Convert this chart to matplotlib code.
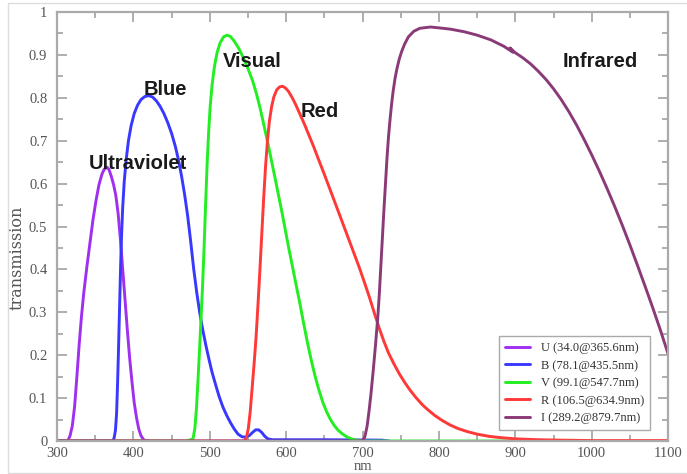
import matplotlib
matplotlib.use("Agg")
import matplotlib.pyplot as plt
from matplotlib.ticker import MultipleLocator, FuncFormatter
from matplotlib.patches import Rectangle

# ---------------- data ----------------
u_nm = [300, 314, 317, 320, 323, 326, 329, 332, 335, 339, 343, 347, 351, 355, 359, 362, 365.6,
        368, 371, 374, 377, 380, 383, 386, 389, 392, 395, 398, 401, 404, 407, 410, 413, 416, 420]
u_tr = [0, 0, 0.012, 0.035, 0.08, 0.15, 0.225, 0.29, 0.345, 0.405, 0.46, 0.515, 0.56, 0.598,
        0.623, 0.634, 0.638, 0.633, 0.617, 0.598, 0.572, 0.53, 0.47, 0.40, 0.33, 0.26, 0.195,
        0.14, 0.09, 0.055, 0.028, 0.012, 0.004, 0, 0]

b_nm = [300, 372, 374.5, 376.5, 378, 379.2, 380.3, 381.3, 382.3, 383.3, 384.5, 386, 388, 390.5,
        393.5, 397, 401, 405.5, 410, 415, 420, 425, 430, 435, 440, 445, 450, 455, 459, 463, 467,
        471, 475, 479, 483, 487, 491, 495, 499, 503, 507, 512, 517, 522, 527, 532, 537, 542,
        547, 552, 556, 560, 564, 568, 572, 576, 582, 650, 725, 735]
b_tr = [0, 0, 0.005, 0.025, 0.065, 0.13, 0.2, 0.27, 0.34, 0.41, 0.48, 0.545, 0.605, 0.655, 0.70,
        0.735, 0.763, 0.783, 0.796, 0.803, 0.805, 0.802, 0.793, 0.78, 0.763, 0.742, 0.717, 0.686,
        0.655, 0.618, 0.575, 0.525, 0.465, 0.40, 0.345, 0.297, 0.257, 0.222, 0.19, 0.16, 0.135,
        0.105, 0.08, 0.06, 0.043, 0.028, 0.016, 0.01, 0.009, 0.013, 0.02, 0.026, 0.026, 0.02,
        0.011, 0.005, 0.003, 0.003, 0.002, 0]

v_nm = [300, 470, 478, 480.5, 482.5, 484.5, 486.5, 488.5, 490.5, 492.5, 494.5, 496.5, 498.5,
        500.5, 503, 506, 509.5, 513.5, 518, 522.5, 527, 532, 538, 544, 550, 556, 561, 566, 571,
        577, 586, 594.7, 603, 612, 618, 623, 628, 633, 638, 643, 648, 653, 658, 663, 668, 674,
        680, 687, 694, 700, 960]
v_tr = [0, 0, 0.005, 0.03, 0.075, 0.14, 0.21, 0.285, 0.36, 0.45, 0.55, 0.645, 0.72, 0.78, 0.83,
        0.872, 0.905, 0.928, 0.942, 0.946, 0.943, 0.932, 0.915, 0.893, 0.868, 0.84, 0.81, 0.775,
        0.735, 0.686, 0.608, 0.531, 0.453, 0.373, 0.32, 0.273, 0.228, 0.187, 0.15, 0.118, 0.09,
        0.068, 0.05, 0.036, 0.025, 0.016, 0.009, 0.004, 0.001, 0, 0]

r_nm = [300, 545, 548, 550.5, 553, 555.5, 558, 560.5, 563, 565.5, 568, 570.5, 573, 575.5, 578,
        581, 584, 587.5, 591, 595, 599, 603, 608, 613, 618, 624, 630, 636, 642, 649, 656, 663,
        671, 679, 687, 695, 702, 709, 716, 722, 728, 734, 741, 748, 755, 762, 770, 778, 786,
        795, 805, 815, 825, 837, 850, 865, 880, 900, 930, 960, 1000, 1100]
r_tr = [0, 0, 0.008, 0.03, 0.07, 0.125, 0.18, 0.24, 0.315, 0.395, 0.48, 0.565, 0.64, 0.70,
        0.745, 0.78, 0.803, 0.818, 0.825, 0.827, 0.823, 0.815, 0.80, 0.782, 0.762, 0.738, 0.712,
        0.686, 0.658, 0.626, 0.593, 0.56, 0.522, 0.484, 0.446, 0.408, 0.372, 0.335, 0.295,
        0.262, 0.232, 0.205, 0.18, 0.157, 0.137, 0.119, 0.101, 0.085, 0.072, 0.059, 0.047,
        0.037, 0.029, 0.022, 0.016, 0.011, 0.008, 0.005, 0.003, 0.002, 0.001, 0.001]

i_nm = [300, 700, 703, 706, 708.5, 711, 714, 717, 720, 722, 724, 726, 728, 730, 732, 734, 736,
        738, 740, 742.5, 745, 748, 751, 755, 760, 767, 775, 789, 800, 815, 833, 850, 868, 885,
        897, 893, 900, 910, 920, 930, 940, 950, 960, 970, 980, 990, 1000, 1010, 1020, 1030,
        1040, 1050, 1060, 1070, 1080, 1090, 1100]
i_tr = [0, 0, 0.01, 0.035, 0.07, 0.11, 0.165, 0.225, 0.29, 0.345, 0.41, 0.475, 0.54, 0.60, 0.66,
        0.71, 0.75, 0.785, 0.815, 0.845, 0.868, 0.89, 0.907, 0.925, 0.942, 0.955, 0.962, 0.965,
        0.963, 0.96, 0.954, 0.946, 0.935, 0.92, 0.906, 0.916, 0.905, 0.893, 0.879, 0.862, 0.843,
        0.821, 0.796, 0.768, 0.737, 0.703, 0.667, 0.629, 0.589, 0.547, 0.503, 0.457, 0.409,
        0.36, 0.31, 0.258, 0.203]

series_labels = ["U (34.0@365.6nm)", "B (78.1@435.5nm)", "V (99.1@547.7nm)",
                 "R (106.5@634.9nm)", "I (289.2@879.7nm)"]
series_colors = ["#a030f0", "#3838ff", "#22ee22", "#ff3838", "#8b3a78"]

band_names = ["Ultraviolet", "Blue", "Visual", "Red", "Infrared"]
band_x = [406, 441.6, 556, 644, 1011.7]
band_y = [0.648, 0.82, 0.885, 0.768, 0.885]

# ---------------- figure ----------------
fig = plt.figure(figsize=(6.87, 4.74), dpi=100)
ax = fig.add_axes([0.083, 0.0696, 0.8895, 0.9051])

# faint outer frame
fig.patches.append(Rectangle((8 / 687, 0.002), 1.0, (474 - 4) / 474, transform=fig.transFigure,
                             fill=False, edgecolor="#dddddd", linewidth=1.0))

data = [(u_nm, u_tr), (b_nm, b_tr), (v_nm, v_tr), (r_nm, r_tr), (i_nm, i_tr)]
for (x, y), lab, col in zip(data, series_labels, series_colors):
    ax.plot(x, y, color=col, lw=2.1, label=lab, solid_capstyle="round",
            solid_joinstyle="round")

for name, x, y in zip(band_names, band_x, band_y):
    ax.text(x, y, name, ha="center", va="center", fontsize=14.5, fontweight="bold",
            family="Liberation Sans", color="#1a1a1a")

ax.set_xlim(300, 1100)
ax.set_ylim(0, 1)
ax.xaxis.set_major_locator(MultipleLocator(100))
ax.xaxis.set_minor_locator(MultipleLocator(50))
ax.yaxis.set_major_locator(MultipleLocator(0.1))
ax.yaxis.set_minor_locator(MultipleLocator(0.05))
ax.yaxis.set_major_formatter(FuncFormatter(lambda v, p: ("%g" % round(v, 2))))

tick_col = "#999999"
ax.tick_params(which="both", direction="in", top=True, right=True, color=tick_col, width=1.1)
ax.tick_params(which="major", length=7, labelsize=10.5, labelcolor="#555555")
ax.tick_params(axis="x", which="major", pad=4)
ax.tick_params(axis="y", which="major", pad=7)
ax.tick_params(which="minor", length=4)
for lbl in ax.get_xticklabels() + ax.get_yticklabels():
    lbl.set_family("Liberation Serif")
for s in ax.spines.values():
    s.set_color("#aaaaaa")
    s.set_linewidth(1.6)

ax.set_xlabel("nm", family="Liberation Serif", fontsize=10.5, color="#555555", labelpad=0)
ax.set_ylabel("transmission", family="DejaVu Serif", fontsize=11.5, color="#555555")
ax.yaxis.set_label_coords(-0.052, 0.428)

leg = ax.legend(loc="lower right", bbox_to_anchor=(0.9706, 0.0256), frameon=True,
                fancybox=False, edgecolor="#aaaaaa", framealpha=1,
                prop={"family": "Liberation Serif", "size": 9},
                handlelength=2.0, handletextpad=0.9, labelspacing=0.45, borderpad=0.45,
                borderaxespad=0)
for t in leg.get_texts():
    t.set_color("#333333")
leg.get_frame().set_linewidth(1.0)

fig.savefig("out.png", dpi=100)
